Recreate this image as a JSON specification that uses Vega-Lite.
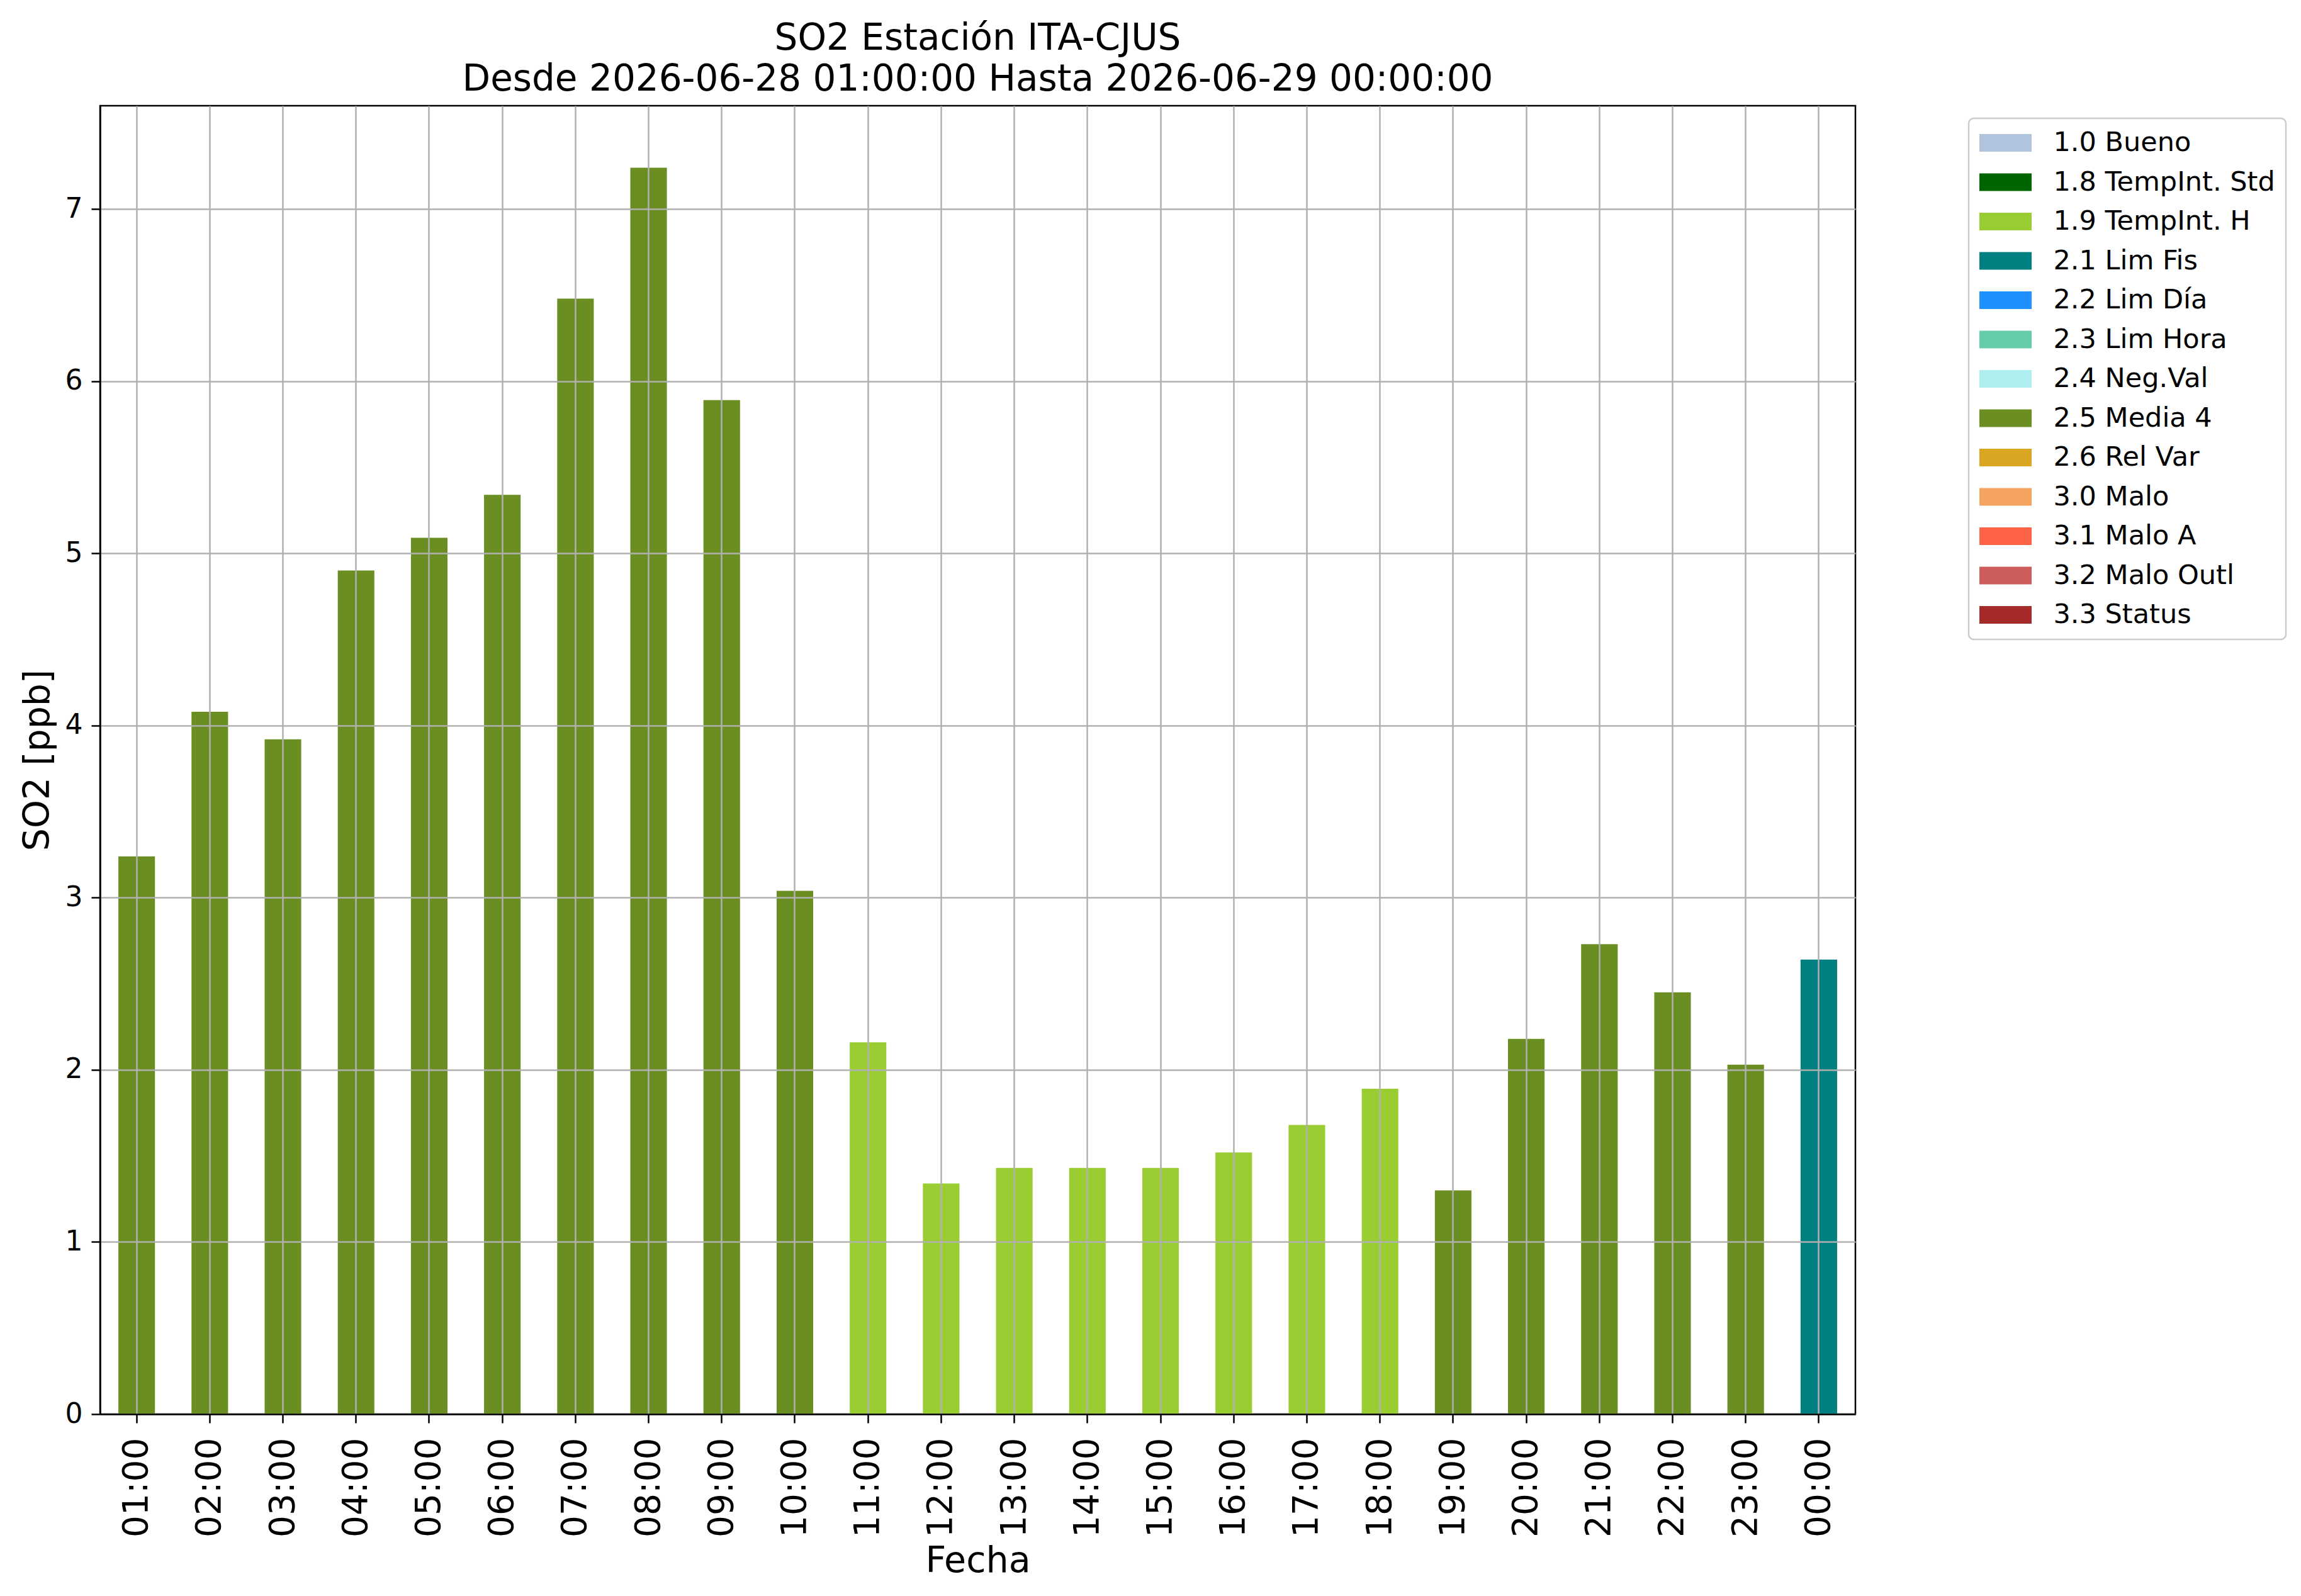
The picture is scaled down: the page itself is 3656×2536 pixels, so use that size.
{
  "$schema": "https://vega.github.io/schema/vega-lite/v6.json",
  "autosize": {"type": "none"},
  "padding": {"left": 159, "top": 168, "right": 708, "bottom": 289},
  "width": 2789,
  "height": 2079,
  "background": "white",
  "title": {
    "text": ["SO2 Estación ITA-CJUS", "Desde 2026-06-28 01:00:00 Hasta 2026-06-29 00:00:00"],
    "fontSize": 58,
    "fontWeight": "normal",
    "font": "DejaVu Sans",
    "color": "black",
    "lineHeight": 65,
    "anchor": "middle",
    "offset": 12
  },
  "data": {
    "values": [
      {"Fecha": "01:00", "SO2": 3.24, "flag": "2.5 Media 4"},
      {"Fecha": "02:00", "SO2": 4.08, "flag": "2.5 Media 4"},
      {"Fecha": "03:00", "SO2": 3.92, "flag": "2.5 Media 4"},
      {"Fecha": "04:00", "SO2": 4.90, "flag": "2.5 Media 4"},
      {"Fecha": "05:00", "SO2": 5.09, "flag": "2.5 Media 4"},
      {"Fecha": "06:00", "SO2": 5.34, "flag": "2.5 Media 4"},
      {"Fecha": "07:00", "SO2": 6.48, "flag": "2.5 Media 4"},
      {"Fecha": "08:00", "SO2": 7.24, "flag": "2.5 Media 4"},
      {"Fecha": "09:00", "SO2": 5.89, "flag": "2.5 Media 4"},
      {"Fecha": "10:00", "SO2": 3.04, "flag": "2.5 Media 4"},
      {"Fecha": "11:00", "SO2": 2.16, "flag": "1.9 TempInt. H"},
      {"Fecha": "12:00", "SO2": 1.34, "flag": "1.9 TempInt. H"},
      {"Fecha": "13:00", "SO2": 1.43, "flag": "1.9 TempInt. H"},
      {"Fecha": "14:00", "SO2": 1.43, "flag": "1.9 TempInt. H"},
      {"Fecha": "15:00", "SO2": 1.43, "flag": "1.9 TempInt. H"},
      {"Fecha": "16:00", "SO2": 1.52, "flag": "1.9 TempInt. H"},
      {"Fecha": "17:00", "SO2": 1.68, "flag": "1.9 TempInt. H"},
      {"Fecha": "18:00", "SO2": 1.89, "flag": "1.9 TempInt. H"},
      {"Fecha": "19:00", "SO2": 1.30, "flag": "2.5 Media 4"},
      {"Fecha": "20:00", "SO2": 2.18, "flag": "2.5 Media 4"},
      {"Fecha": "21:00", "SO2": 2.73, "flag": "2.5 Media 4"},
      {"Fecha": "22:00", "SO2": 2.45, "flag": "2.5 Media 4"},
      {"Fecha": "23:00", "SO2": 2.03, "flag": "2.5 Media 4"},
      {"Fecha": "00:00", "SO2": 2.64, "flag": "2.1 Lim Fis"}
    ]
  },
  "mark": {"type": "bar"},
  "encoding": {
    "x": {
      "field": "Fecha",
      "type": "nominal",
      "sort": null,
      "scale": {"paddingInner": 0.5, "paddingOuter": 0.25},
      "axis": {
        "title": "Fecha",
        "titleFontSize": 57,
        "titleFontWeight": "normal",
        "titlePadding": 10,
        "labelAngle": -90,
        "labelFontSize": 55,
        "labelPadding": 23,
        "bandPosition": 0.5,
        "grid": true,
        "zindex": 1
      }
    },
    "y": {
      "field": "SO2",
      "type": "quantitative",
      "scale": {"domain": [0, 7.6], "nice": false, "zero": true},
      "axis": {
        "title": "SO2 [ppb]",
        "values": [0, 1, 2, 3, 4, 5, 6, 7],
        "titleFontSize": 57,
        "titleFontWeight": "normal",
        "titlePadding": 14,
        "labelFontSize": 44,
        "labelPadding": 14,
        "grid": true,
        "zindex": 1
      }
    },
    "color": {
      "field": "flag",
      "type": "nominal",
      "scale": {
        "domain": ["1.0 Bueno", "1.8 TempInt. Std", "1.9 TempInt. H", "2.1 Lim Fis", "2.2 Lim Día", "2.3 Lim Hora", "2.4 Neg.Val", "2.5 Media 4", "2.6 Rel Var", "3.0 Malo", "3.1 Malo A", "3.2 Malo Outl", "3.3 Status"],
        "range": ["#b0c4de", "#006400", "#9acd32", "#008080", "#1e90ff", "#66cdaa", "#afeeee", "#6b8e23", "#daa520", "#f4a460", "#ff6347", "#cd5c5c", "#a52a2a"]
      },
      "legend": {
        "title": null,
        "orient": "none",
        "legendX": 2969,
        "legendY": 20,
        "padding": 17,
        "strokeColor": "#cccccc",
        "cornerRadius": 8,
        "fillColor": "white",
        "symbolType": "M-1,-0.636H2.772V0.636H-1Z",
        "symbolSize": 1936,
        "symbolStrokeWidth": 0,
        "symbolOpacity": 1,
        "labelFontSize": 43,
        "labelColor": "black",
        "labelOffset": 73.5,
        "labelLimit": 0,
        "rowPadding": 18.5
      }
    }
  },
  "config": {
    "font": "DejaVu Sans",
    "view": {"stroke": "black", "strokeWidth": 2.5},
    "axis": {
      "labelFont": "DejaVu Sans",
      "titleFont": "DejaVu Sans",
      "labelColor": "black",
      "titleColor": "black",
      "domainColor": "black",
      "domainWidth": 2.5,
      "tickColor": "black",
      "tickWidth": 2.5,
      "tickSize": 14,
      "gridColor": "#b0b0b0",
      "gridWidth": 2.5,
      "gridOpacity": 1
    },
    "legend": {"labelFont": "DejaVu Sans", "strokeWidth": 2.5}
  }
}
